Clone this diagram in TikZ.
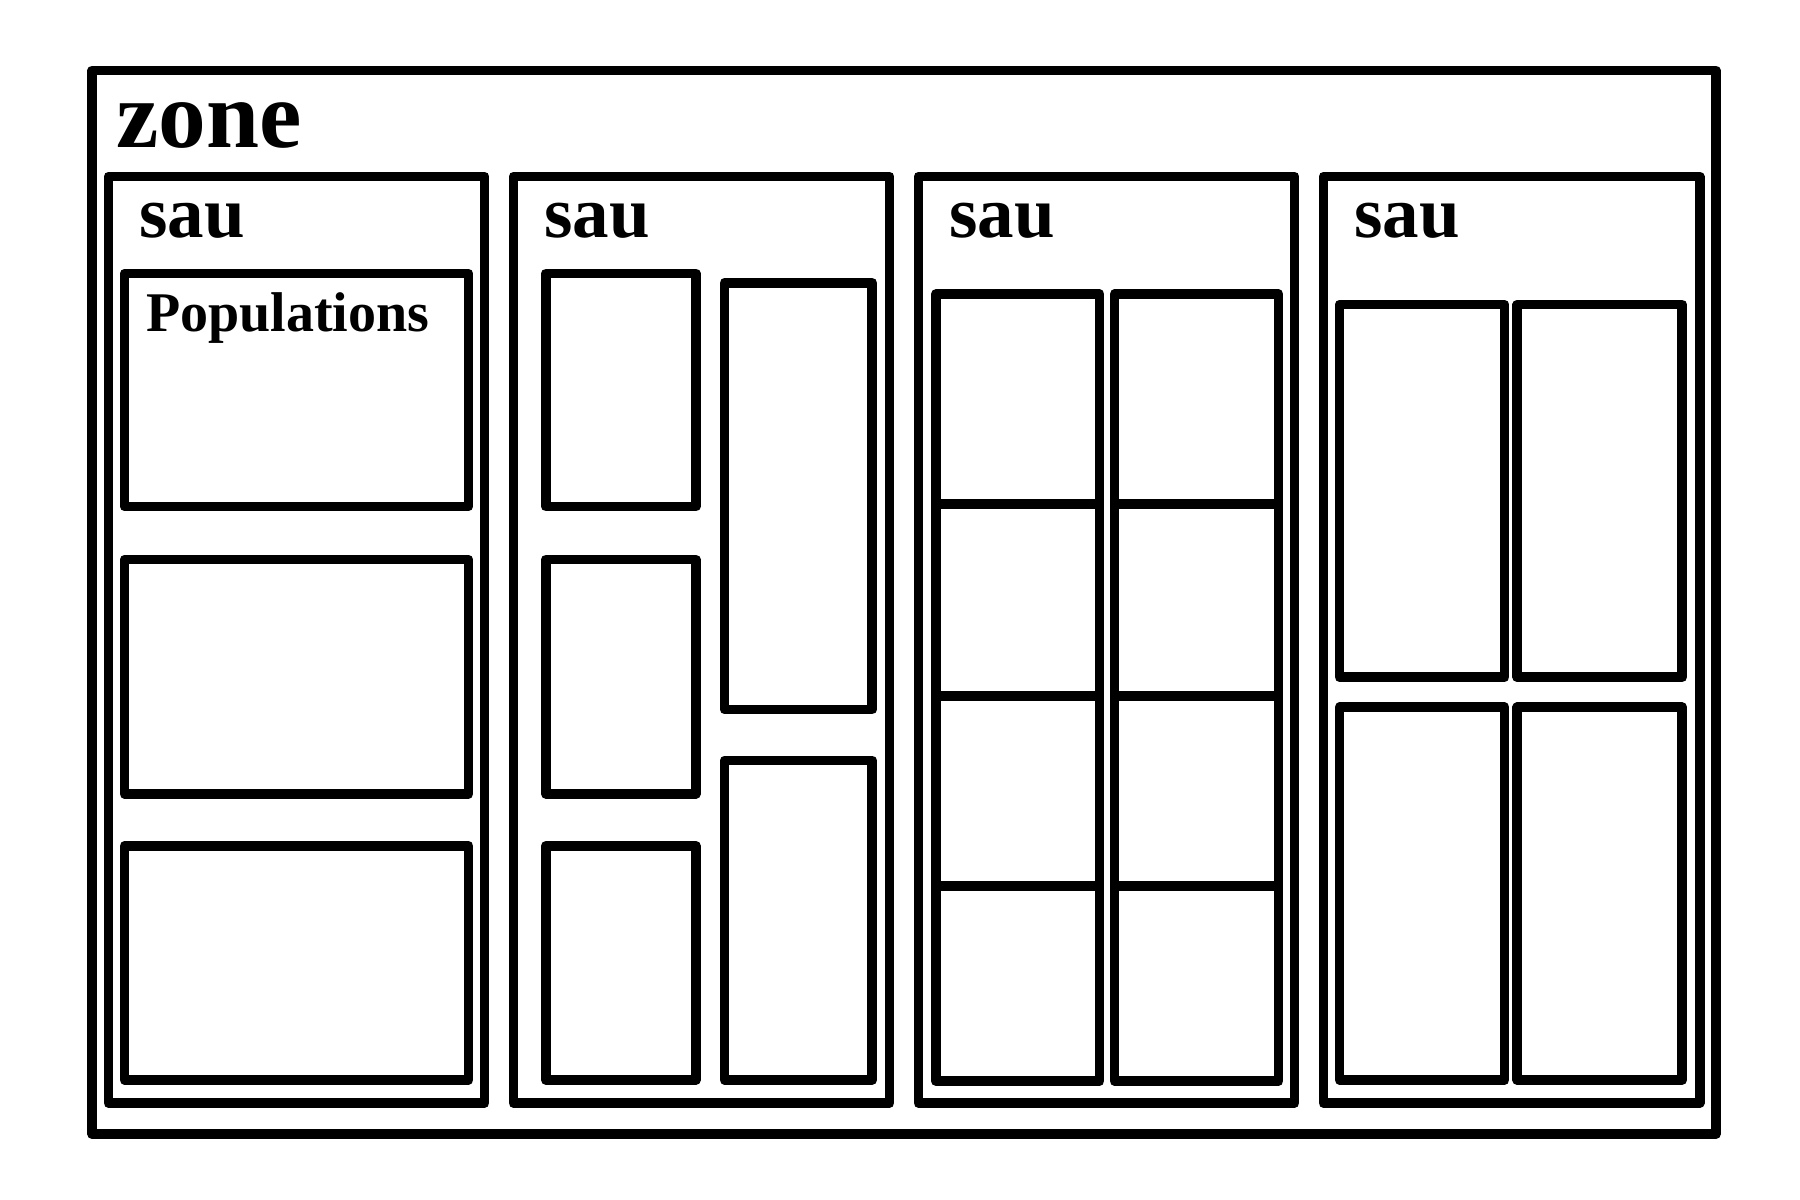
\documentclass[tikz,border=0pt]{standalone}
\usepackage{fontspec}
\setmainfont{Liberation Serif}
\begin{document}
\begin{tikzpicture}[x=0.01cm,y=-0.01cm,
  bx/.style={draw=black,line width=2.4pt,line join=round},
  lbl/.style={anchor=base west,inner sep=0pt,font=\bfseries}]
\useasboundingbox (0,0) rectangle (1560,1040);
\draw[bx] (80,61) rectangle (1487,983);
\node[lbl,font=\bfseries\fontsize{23.5}{25}\selectfont] (z) at (100,128) {zone};
\foreach \x in {94,445,796,1147}{
  \draw[bx] (\x,153) rectangle ++(326,803);
  \node[lbl,font=\bfseries\fontsize{18}{20}\selectfont] at (\x+26,206) {sau};
}
% sau 1
\foreach \y/\h in {237/202,485/203,733/203} \draw[bx] (108,\y) rectangle ++(298,\h);
\node[lbl,font=\bfseries\fontsize{13.8}{15}\selectfont] (p) at (126,287) {Populations};
% sau 2
\foreach \y/\h in {237/202,485/203,733/203} \draw[bx] (473,\y) rectangle ++(130,\h);
\draw[bx] (628,245) rectangle (756,615);
\draw[bx] (628,659) rectangle (756,936);
% sau 3
\foreach \x in {811,966}
  \foreach \a/\b in {255/437,437/603,603/768,768/937}
    \draw[bx] (\x,\a) rectangle ++(142,\b-\a);
% sau 4
\foreach \x in {1161,1315}{
  \draw[bx] (\x,264) rectangle ++(143,323);
  \draw[bx] (\x,613) rectangle ++(143,323);
}
\end{tikzpicture}
\end{document}
